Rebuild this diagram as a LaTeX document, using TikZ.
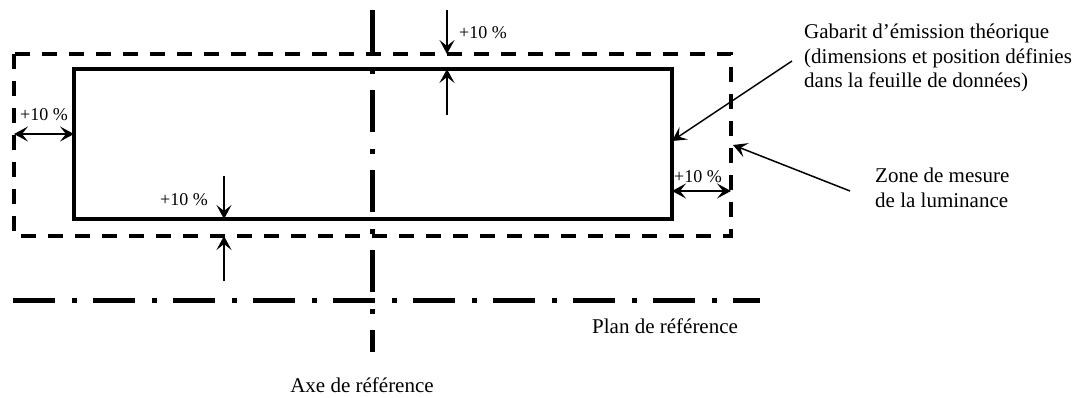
\documentclass[tikz,border=0pt]{standalone}
\usepackage{fontspec}
\setmainfont{Liberation Serif}
\usetikzlibrary{arrows.meta, calc}
\tikzset{
  gabarit/.style={line width=4.5pt},
  zone/.style={line width=4pt, dash pattern=on 15pt off 12pt},
  axe/.style={line width=5pt, dash pattern=on 42pt off 17pt on 5pt off 16pt},
  cote/.style={line width=1.8pt, -{Stealth[length=14pt, width=15pt, inset=6pt]}},
  cote2/.style={line width=1.8pt, {Stealth[length=14pt, width=15pt, inset=6pt]}-{Stealth[length=14pt, width=15pt, inset=6pt]}},
  renvoi/.style={line width=1.5pt, -{Stealth[length=14pt, width=15pt, inset=6pt]}},
  pct/.style={font=\fontsize{18}{21}\selectfont, inner sep=0pt},
  txt/.style={font=\fontsize{21}{24.5}\selectfont, inner sep=0pt, align=left}
}

\begin{document}
\begin{tikzpicture}[x=1pt, y=-1pt]
        \useasboundingbox (0,0) rectangle (1086,397);

        \coordinate (g1) at (74,69);
        \coordinate (g2) at (672,219);
        \coordinate (z1) at (14,54);
        \coordinate (z2) at (731,236);

        \draw[zone] (z1) rectangle (z2);
        \draw[gabarit] (g1) rectangle (g2);

        \coordinate (ax1) at (372,10);
        \coordinate (ax2) at (372,352);
        \draw[axe] (ax1) -- (ax2);
        \coordinate (pl1) at (13,300);
        \coordinate (pl2) at (760,300);
        \draw[axe] (pl1) -- (pl2);

        \coordinate (t1) at (447,10);
        \coordinate (t2) at (447,115);
        \draw[cote] (t1) -- (t1 |- z1);
        \draw[cote] (t2) -- (t2 |- g1);
        \node[pct, anchor=base west] (ph) at (459,38) {+10 \%};

        \coordinate (b1) at (224,176);
        \coordinate (b2) at (224,281);
        \draw[cote] (b1) -- (b1 |- g2);
        \draw[cote] (b2) -- (b2 |- z2);
        \node[pct, anchor=base west] (pb) at (160,205) {+10 \%};

        \coordinate (l) at (0,134);
        \draw[cote2] (l -| z1) -- (l -| g1);
        \node[pct, anchor=base west] (pg) at (20,120) {+10 \%};

        \coordinate (r) at (0,191);
        \draw[cote2] (r -| g2) -- (r -| z2);
        \node[pct, anchor=base west] (pd) at (674,182) {+10 \%};

        \node[txt, anchor=north west] (gab) at (804,24) {Gabarit d’émission théorique\\(dimensions et position définies\\dans la feuille de données)};
        \coordinate (gl) at (792,61);
        \draw[renvoi] (gl) -- (g2 |- 0,141);

        \node[txt, anchor=north west] (zl) at (875,168) {Zone de mesure\\de la luminance};
        \coordinate (zz) at (850,191);
        \draw[renvoi] (zz) -- (733,145);

        \node[txt, anchor=base west] (plan) at (592,333) {Plan de référence};
        \node[txt, anchor=base] (axe) at (362,392) {Axe de référence};

    \end{tikzpicture}
\end{document}
